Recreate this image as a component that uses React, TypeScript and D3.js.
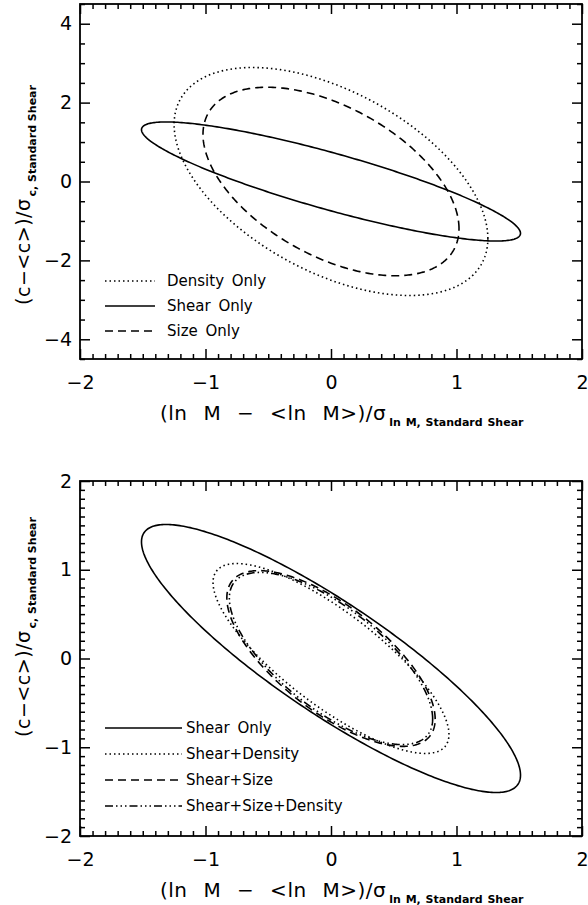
import React, { useEffect, useRef } from "react";
import * as d3 from "d3";

// x axis (shared by both panels)
const xTicks = [-2, -1, 0, 1, 2];

// top panel
const topYTicks = [-4, -2, 0, 2, 4];
const topLabels = ["Density Only", "Shear Only", "Size Only"];
const topSigmaX = [1.25, 1.51, 1.02];
const topSigmaY = [2.89, 1.51, 2.39];
const topRho = [-0.5, -0.87, -0.5];

// bottom panel
const bottomYTicks = [-2, -1, 0, 1, 2];
const bottomLabels = ["Shear Only", "Shear+Density", "Shear+Size", "Shear+Size+Density"];
const bottomSigmaX = [1.51, 0.94, 0.83, 0.81];
const bottomSigmaY = [1.51, 1.07, 0.99, 0.97];
const bottomRho = [-0.87, -0.8, -0.69, -0.7];

const FONT = "DejaVu Sans";
const dashes: Record<string, string | null> = {
  solid: null,
  dot: "1.5,3",
  dash: "8,5",
  dash3dot: "8,3,1.5,3,1.5,3,1.5,3",
};

function ellipsePoints(sx: number, sy: number, rho: number): [number, number][] {
  const s = Math.sqrt(1 - rho * rho);
  return d3.range(0, 360, 1).map((deg) => {
    const t = (deg * Math.PI) / 180;
    return [sx * Math.cos(t), sy * (rho * Math.cos(t) + s * Math.sin(t))];
  });
}

function drawPanel(svg, opts) {
  const { top, bottom, left, right, yDomain, yTicks, yMinorStep, curves, legend, yTitleY } = opts;
  const x = d3.scaleLinear().domain([-2, 2]).range([left, right]);
  const y = d3.scaleLinear().domain(yDomain).range([bottom, top]);

  const xMinor = d3.range(-20, 21).map((v) => v / 10).filter((v) => !xTicks.includes(v));
  const yMinor = d3
    .range(Math.ceil(yDomain[0] / yMinorStep), Math.floor(yDomain[1] / yMinorStep) + 1)
    .map((k) => +(k * yMinorStep).toFixed(3))
    .filter((v) => !yTicks.includes(v));

  const g = svg.append("g");

  const styleAxis = (sel) => {
    sel.select(".domain").remove();
    sel.selectAll("line").attr("stroke", "#000").attr("stroke-width", 1.5);
    sel.selectAll("text").attr("font-family", FONT).attr("font-size", 19).attr("fill", "#000");
  };

  // bottom axis with labels
  g.append("g")
    .attr("transform", `translate(0,${bottom})`)
    .call(d3.axisBottom(x).tickValues(xTicks).tickSize(-10).tickPadding(17).tickFormat(d3.format("d")))
    .call(styleAxis);
  g.append("g")
    .attr("transform", `translate(0,${bottom})`)
    .call(d3.axisBottom(x).tickValues(xMinor).tickSize(-5).tickFormat(() => ""))
    .call(styleAxis);
  // top axis, ticks only
  g.append("g")
    .attr("transform", `translate(0,${top})`)
    .call(d3.axisTop(x).tickValues(xTicks).tickSize(-10).tickFormat(() => ""))
    .call(styleAxis);
  g.append("g")
    .attr("transform", `translate(0,${top})`)
    .call(d3.axisTop(x).tickValues(xMinor).tickSize(-5).tickFormat(() => ""))
    .call(styleAxis);
  // left axis with labels
  g.append("g")
    .attr("transform", `translate(${left},0)`)
    .call(d3.axisLeft(y).tickValues(yTicks).tickSize(-10).tickPadding(8).tickFormat(d3.format("d")))
    .call(styleAxis);
  g.append("g")
    .attr("transform", `translate(${left},0)`)
    .call(d3.axisLeft(y).tickValues(yMinor).tickSize(-5).tickFormat(() => ""))
    .call(styleAxis);
  // right axis, ticks only
  g.append("g")
    .attr("transform", `translate(${right},0)`)
    .call(d3.axisRight(y).tickValues(yTicks).tickSize(-10).tickFormat(() => ""))
    .call(styleAxis);
  g.append("g")
    .attr("transform", `translate(${right},0)`)
    .call(d3.axisRight(y).tickValues(yMinor).tickSize(-5).tickFormat(() => ""))
    .call(styleAxis);

  g.append("rect")
    .attr("x", left)
    .attr("y", top)
    .attr("width", right - left)
    .attr("height", bottom - top)
    .attr("fill", "none")
    .attr("stroke", "#000")
    .attr("stroke-width", 1.8);

  const line = d3
    .line()
    .x((d) => x(d[0]))
    .y((d) => y(d[1]))
    .curve(d3.curveLinearClosed);

  curves.forEach((c) => {
    g.append("path")
      .attr("d", line(ellipsePoints(c.sx, c.sy, c.rho)))
      .attr("fill", "none")
      .attr("stroke", "#000")
      .attr("stroke-width", 1.6)
      .attr("stroke-dasharray", dashes[c.style]);
  });

  // legend
  curves.forEach((c, i) => {
    const ly = legend.y + i * legend.step;
    g.append("line")
      .attr("x1", legend.x1)
      .attr("x2", legend.x2)
      .attr("y1", ly)
      .attr("y2", ly)
      .attr("stroke", "#000")
      .attr("stroke-width", 1.6)
      .attr("stroke-dasharray", dashes[c.style]);
    g.append("text")
      .attr("x", legend.tx)
      .attr("y", ly + 5)
      .attr("font-family", FONT)
      .attr("font-size", 15)
      .attr("word-spacing", 3)
      .text(c.label);
  });

  // x title
  const xt = g
    .append("text")
    .attr("x", 160)
    .attr("y", bottom + 61)
    .attr("font-family", FONT)
    .attr("font-size", 20)
    .attr("letter-spacing", 0.5)
    .attr("word-spacing", 9);
  xt.append("tspan").text("(ln M \u2212 <ln M>)/\u03c3");
  xt.append("tspan")
    .attr("font-size", 11)
    .attr("font-weight", "bold")
    .attr("dx", 3)
    .attr("dy", 6)
    .attr("letter-spacing", 0)
    .attr("word-spacing", 1)
    .text("ln M, Standard Shear");

  // y title
  const yt = g
    .append("text")
    .attr("transform", `translate(30,${yTitleY}) rotate(-90)`)
    .attr("text-anchor", "middle")
    .attr("font-family", FONT)
    .attr("font-size", 19)
    .attr("letter-spacing", 0.5);
  yt.append("tspan").text("(c\u2212<c>)/\u03c3");
  yt.append("tspan")
    .attr("font-size", 11)
    .attr("font-weight", "bold")
    .attr("dx", 2)
    .attr("dy", 6)
    .attr("letter-spacing", 0)
    .text("c, Standard Shear");
}

export default function App() {
  const ref = useRef<SVGSVGElement>(null);

  useEffect(() => {
    const svg = d3.select(ref.current);
    svg.selectAll("*").remove();

    drawPanel(svg, {
      top: 4,
      bottom: 359,
      left: 80,
      right: 582,
      yDomain: [-4.5, 4.5],
      yTicks: topYTicks,
      yMinorStep: 0.5,
      yTitleY: 195,
      curves: topLabels.map((label, i) => ({
        label,
        sx: topSigmaX[i],
        sy: topSigmaY[i],
        rho: topRho[i],
        style: ["dot", "solid", "dash"][i],
      })),
      legend: { x1: 105, x2: 155, tx: 167, y: 281, step: 25 },
    });

    drawPanel(svg, {
      top: 481,
      bottom: 836,
      left: 80,
      right: 582,
      yDomain: [-2, 2],
      yTicks: bottomYTicks,
      yMinorStep: 0.1,
      yTitleY: 627,
      curves: bottomLabels.map((label, i) => ({
        label,
        sx: bottomSigmaX[i],
        sy: bottomSigmaY[i],
        rho: bottomRho[i],
        style: ["solid", "dot", "dash", "dash3dot"][i],
      })),
      legend: { x1: 105, x2: 182, tx: 186, y: 728, step: 26 },
    });
  }, []);

  return (
    <svg
      ref={ref}
      width={588}
      height={905}
      style={{ position: "absolute", left: 0, top: 0, background: "#fff" }}
    />
  );
}
